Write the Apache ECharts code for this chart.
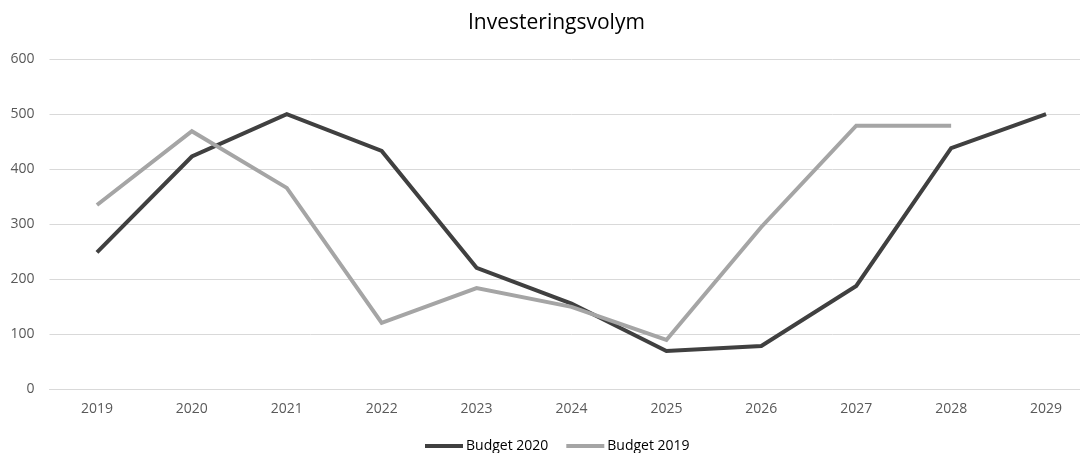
<!DOCTYPE html>
<html>
<head>
<meta charset="utf-8">
<script src="https://cdn.jsdelivr.net/npm/echarts@6/dist/echarts.min.js"></script>
<style>
html,body{margin:0;padding:0;background:#fff;overflow:hidden;width:1080px;height:453px;}
#chart{width:1094px;height:453px;}
</style>
</head>
<body>
<div id="chart"></div>
<script>
// Investment volume per year, two budget rounds
const years = ['2019','2020','2021','2022','2023','2024','2025','2026','2027','2028','2029'];
const budget2020 = [249, 423, 500, 433, 221, 156, 70, 79, 188, 438, 500];
const budget2019 = [335, 469, 366, 121, 184, 150, 90, 295, 479, 479, null];
const yTicks = [0, 100, 200, 300, 400, 500, 600];

const FONT = '"Open Sans", "Noto Sans", sans-serif';
const chart = echarts.init(document.getElementById('chart'), null, {renderer: 'canvas'});

chart.setOption({
  animation: false,
  backgroundColor: '#ffffff',
  title: {
    text: 'Investeringsvolym',
    left: 463,
    top: 8,
    textStyle: {fontFamily: FONT, fontSize: 21, fontWeight: 'normal', color: '#000000'}
  },
  legend: {
    left: 420,
    top: 434,
    itemWidth: 38,
    itemHeight: 4,
    itemGap: 18,
    icon: 'rect',
    textStyle: {fontFamily: FONT, fontSize: 14, color: '#000000', padding: [0, 0, 0, -2]},
    data: ['Budget 2020', 'Budget 2019']
  },
  grid: {left: 49.5, right: 0.5, top: 59, height: 330.5, containLabel: false},
  xAxis: {
    type: 'category',
    data: years,
    boundaryGap: true,
    axisLine: {show: true, lineStyle: {color: '#d9d9d9', width: 1}},
    axisTick: {show: false},
    axisLabel: {fontFamily: FONT, fontSize: 14, color: '#595959', margin: 13}
  },
  yAxis: {
    type: 'value',
    min: yTicks[0],
    max: yTicks[yTicks.length - 1],
    interval: 100,
    axisLine: {show: false},
    axisTick: {show: false},
    splitLine: {lineStyle: {color: '#d9d9d9', width: 1}},
    axisLabel: {fontFamily: FONT, fontSize: 14, color: '#595959', margin: 15}
  },
  series: [
    {
      name: 'Budget 2020',
      type: 'line',
      data: budget2020,
      symbol: 'none',
      color: '#404040',
      lineStyle: {width: 4, color: '#404040', join: 'miter'}
    },
    {
      name: 'Budget 2019',
      type: 'line',
      data: budget2019,
      symbol: 'none',
      color: '#a5a5a5',
      lineStyle: {width: 4, color: '#a5a5a5', join: 'miter'}
    }
  ]
});
</script>
</body>
</html>
